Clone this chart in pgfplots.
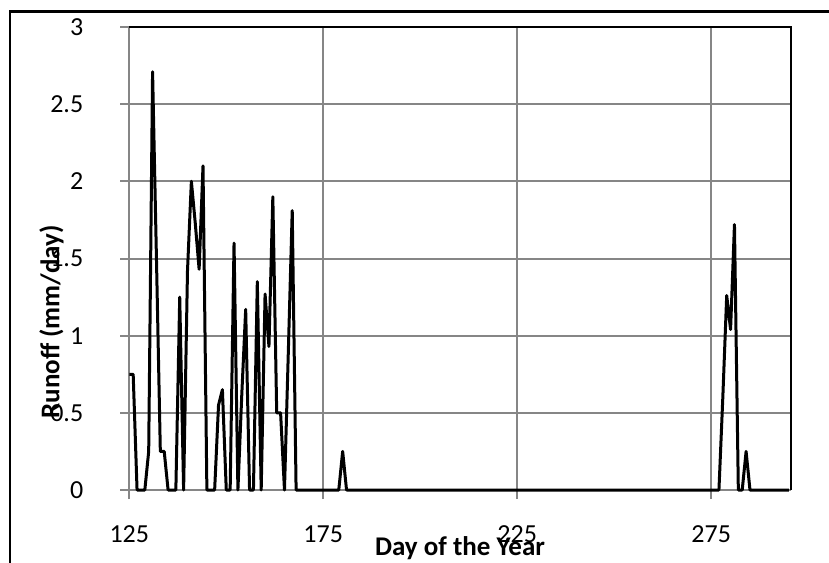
\documentclass[border=0pt]{standalone}
\usepackage{fontspec}
\setmainfont{Carlito}
\usepackage{pgfplots}
\pgfplotsset{compat=1.18}
\definecolor{gridgray}{RGB}{134,134,134}
\begin{document}
\begin{tikzpicture}
\useasboundingbox (-64.65pt,-36pt) rectangle (349.85pt,245pt);
\begin{axis}[
  at={(0,0)}, anchor=south west,
  scale only axis, width=330.7pt, height=231.5pt,
  xmin=125, xmax=295.5, ymin=0, ymax=3,
  xtick={125,175,225,275},
  xticklabels={125,175,225,275},
  ytick={0,0.5,1,1.5,2,2.5,3},
  yticklabels={0,0.5,1,1.5,2,2.5,3},
  xtick pos=left, ytick pos=left,
  tick align=outside, major tick length=4.5pt,
  tick style={gridgray, line width=1pt},
  grid=major,
  major grid style={gridgray, line width=1pt},
  axis line style={draw=none},
  ticklabel style={font=\fontsize{13}{15}\selectfont},
  xticklabel style={yshift=-10pt},
  yticklabel style={xshift=-15pt},
  xlabel={Day of the Year},
  ylabel={Runoff (mm/day)},
  label style={font=\fontsize{13.5}{16}\selectfont\bfseries},
  xlabel style={at={(axis description cs:0.5,0)}, anchor=center, yshift=-29pt},
  ylabel style={at={(axis description cs:-0.1175,0.363)}, anchor=center},
  clip=false,
]
\draw[gridgray, line width=1pt] (rel axis cs:0,0) -- (rel axis cs:1,0);
\draw[gridgray, line width=1pt] (rel axis cs:0,0) -- (rel axis cs:0,1);
\draw[black, line width=1pt] (rel axis cs:0,1) -- (rel axis cs:1,1) -- (rel axis cs:1,0);
\addplot[black, line width=1.5pt, line join=round, mark=none] coordinates {
(125,0.75)(126,0.75)(127,0)(128,0)(129,0)(130,0.25)(131,2.71)(132,1.5)(133,0.25)(134,0.25)
(135,0)(136,0)(137,0)(138,1.25)(139,0)(140,1.42)(141,2.0)(142,1.73)(143,1.43)(144,2.1)
(145,0)(146,0)(147,0)(148,0.55)(149,0.65)(150,0)(151,0)(152,1.6)(153,0)(154,0.62)
(155,1.17)(156,0)(157,0)(158,1.35)(159,0)(160,1.27)(161,0.93)(162,1.9)(163,0.5)(164,0.5)
(165,0)(166,0.9)(167,1.81)(168,0)(169,0)(170,0)(171,0)(172,0)(173,0)(174,0)
(175,0)(176,0)(177,0)(178,0)(179,0)(180,0.25)(181,0)(182,0)(183,0)(184,0)
(185,0)(190,0)(200,0)(210,0)(220,0)(230,0)(240,0)(250,0)(260,0)(270,0)
(275,0)(276,0)(277,0)(278,0.6)(279,1.26)(280,1.04)(281,1.72)(282,0)(283,0)(284,0.25)
(285,0)(286,0)(287,0)(288,0)(289,0)(290,0)(291,0)(292,0)(293,0)(294,0)(295,0)
};
\end{axis}
\draw[black, line width=1.1pt] (-59.65pt,-60pt) -- (-59.65pt,239.25pt) -- (360pt,239.25pt);
\end{tikzpicture}
\end{document}
